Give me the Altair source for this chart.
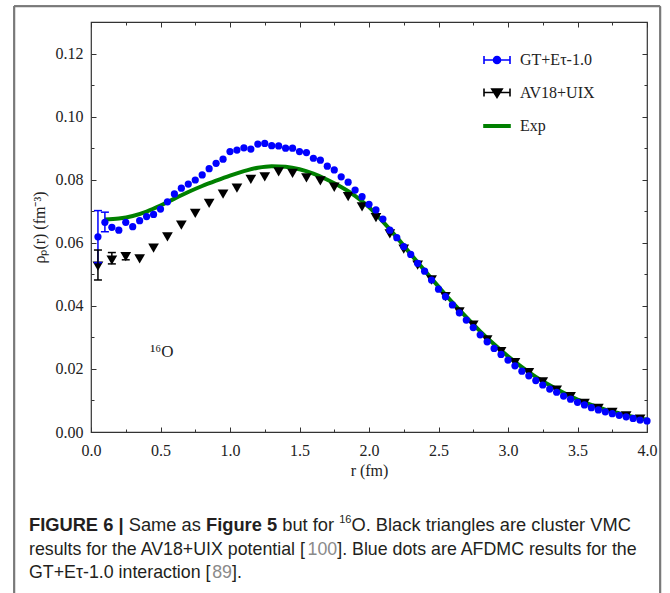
import altair as alt
import pandas as pd

# ---------------- data ----------------
series_names = ["GT+Eτ-1.0", "AV18+UIX", "Exp"]
series_colors = ["#0000ff", "#000000", "#008000"]

gt_r = [0.05, 0.10, 0.15, 0.20, 0.25, 0.30, 0.35, 0.40, 0.45, 0.50,
        0.55, 0.60, 0.65, 0.70, 0.75, 0.80, 0.85, 0.90, 0.95, 1.00,
        1.05, 1.10, 1.15, 1.20, 1.25, 1.30, 1.35, 1.40, 1.45, 1.50,
        1.55, 1.60, 1.65, 1.70, 1.75, 1.80, 1.85, 1.90, 1.95, 2.00,
        2.05, 2.10, 2.15, 2.20, 2.25, 2.30, 2.35, 2.40, 2.45, 2.50,
        2.55, 2.60, 2.65, 2.70, 2.75, 2.80, 2.85, 2.90, 2.95, 3.00,
        3.05, 3.10, 3.15, 3.20, 3.25, 3.30, 3.35, 3.40, 3.45, 3.50,
        3.55, 3.60, 3.65, 3.70, 3.75, 3.80, 3.85, 3.90, 3.95, 4.00]
gt_rho = [0.0619, 0.0665, 0.0649, 0.0640, 0.0665, 0.0651, 0.0670, 0.0683, 0.0690, 0.0707,
          0.0730, 0.0755, 0.0773, 0.0786, 0.0799, 0.0815, 0.0835, 0.0852, 0.0865, 0.0889,
          0.0894, 0.0901, 0.0897, 0.0913, 0.0915, 0.0908, 0.0907, 0.0900, 0.0900, 0.0889,
          0.0886, 0.0868, 0.0862, 0.0843, 0.0831, 0.0809, 0.0792, 0.0767, 0.0746, 0.0722,
          0.0704, 0.0675, 0.0640, 0.0616, 0.0588, 0.0563, 0.0535, 0.0510, 0.0482, 0.0453,
          0.0429, 0.0403, 0.0378, 0.0355, 0.0331, 0.0308, 0.0286, 0.0265, 0.0246, 0.0228,
          0.0210, 0.0193, 0.0178, 0.0163, 0.0149, 0.0136, 0.0126, 0.0114, 0.0104, 0.0094,
          0.0086, 0.0077, 0.0070, 0.0064, 0.0058, 0.0053, 0.0048, 0.0043, 0.0038, 0.0035]

av_r = [0.05, 0.15, 0.25, 0.35, 0.45, 0.55, 0.65, 0.75, 0.85, 0.95,
        1.05, 1.15, 1.25, 1.35, 1.45, 1.55, 1.65, 1.75, 1.85, 1.95,
        2.05, 2.15, 2.25, 2.35, 2.45, 2.55, 2.65, 2.75, 2.85, 2.95,
        3.05, 3.15, 3.25, 3.35, 3.45, 3.55, 3.65, 3.75, 3.85, 3.95]
av_rho = [0.0526, 0.0545, 0.0556, 0.0549, 0.0583, 0.0619, 0.0656, 0.0693, 0.0725, 0.0754,
          0.0773, 0.0801, 0.0809, 0.0825, 0.0820, 0.0806, 0.0796, 0.0776, 0.0746, 0.0714,
          0.0680, 0.0628, 0.0580, 0.0529, 0.0482, 0.0429, 0.0381, 0.0339, 0.0292, 0.0255,
          0.0220, 0.0188, 0.0159, 0.0133, 0.0112, 0.0091, 0.0075, 0.0062, 0.0051, 0.0041]

exp_r = [0.10, 0.20, 0.30, 0.40, 0.50, 0.60, 0.70, 0.80, 0.90, 1.00,
         1.10, 1.20, 1.30, 1.40, 1.50, 1.60, 1.70, 1.80, 1.90, 2.00,
         2.10, 2.20, 2.30, 2.40, 2.50, 2.60, 2.70, 2.80, 2.90, 3.00,
         3.10, 3.20, 3.30, 3.40, 3.50, 3.60, 3.70, 3.80, 3.90, 4.00]
exp_rho = [0.0674, 0.0677, 0.0685, 0.0699, 0.0718, 0.0740, 0.0761, 0.0780, 0.0797, 0.0813,
           0.0827, 0.0838, 0.0843, 0.0841, 0.0833, 0.0819, 0.0800, 0.0777, 0.0749, 0.0713,
           0.0667, 0.0617, 0.0564, 0.0512, 0.0461, 0.0411, 0.0364, 0.0319, 0.0278, 0.0240,
           0.0206, 0.0175, 0.0148, 0.0124, 0.0103, 0.0086, 0.0071, 0.0059, 0.0048, 0.0039]

gt_err_r = [0.05, 0.10]
gt_err_lo = [0.0537, 0.0635]
gt_err_hi = [0.0702, 0.0697]
av_err_r = [0.05, 0.15, 0.25]
av_err_lo = [0.0482, 0.0533, 0.0546]
av_err_hi = [0.0577, 0.0569, 0.0567]

x_major = [0.0, 0.5, 1.0, 1.5, 2.0, 2.5, 3.0, 3.5, 4.0]
x_minor = [0.25, 0.75, 1.25, 1.75, 2.25, 2.75, 3.25, 3.75]
y_major = [0.0, 0.02, 0.04, 0.06, 0.08, 0.10, 0.12]
y_minor = [0.01, 0.03, 0.05, 0.07, 0.09, 0.11]

annot_r = [0.51]
annot_rho = [0.0254]
annot_text = ["¹⁶O"]

x_title = "r (fm)"
y_title = "ρₚ(r) (fm⁻³)"

caption_line1 = ["FIGURE 6 |", "Same as", "Figure 5", "but for", "16", "O. Black triangles are cluster VMC"]
caption_line2 = ["results for the AV18+UIX potential [", "100", "]. Blue dots are AFDMC results for the"]
caption_line3 = ["GT+Eτ-1.0 interaction [", "89", "]."]

# ---------------- style / layout ----------------
SERIF = "Liberation Serif"
SANS = "Liberation Sans"
AX = "#333333"
TXT = "#222222"
PAGE_W, PAGE_H = 670, 593
X0, Y0 = 91, 22          # page position of the plot origin
W, H = 556, 410          # plot area

xscale = alt.Scale(domain=[0, 4], nice=False, zero=False)
yscale = alt.Scale(domain=[0, 0.13], nice=False, zero=False)


def tick_axis(orient, values, size):
    return alt.Axis(orient=orient, values=values, labels=False, domain=False, grid=False,
                    ticks=True, tickSize={"expr": str(-size)}, tickColor=AX, tickWidth=1)


ax_x_lab = alt.Axis(orient="bottom", values=x_major, format=".1f", ticks=False, domain=False,
                    grid=False, labelFont=SERIF, labelFontSize=16, labelColor=TXT,
                    labelFlush=False, labelOverlap=False,
                    labelPadding=10, titleFont=SERIF, titleFontSize=16,
                    titleFontWeight="normal", titleColor=TXT, titlePadding=4)
ax_y_lab = alt.Axis(orient="left", values=y_major, format=".2f", ticks=False, domain=False,
                    grid=False, labelFont=SERIF, labelFontSize=16, labelColor=TXT,
                    labelFlush=False, labelOverlap=False,
                    labelPadding=8, titleFont=SERIF, titleFontSize=16,
                    titleFontWeight="normal", titleColor=TXT, titlePadding=8)

df_gt = pd.DataFrame({"r": gt_r, "rho": gt_rho})
df_av = pd.DataFrame({"r": av_r, "rho": av_rho})
df_exp = pd.DataFrame({"r": exp_r, "rho": exp_rho})
df_gt_err = pd.DataFrame({"r": gt_err_r, "lo": gt_err_lo, "hi": gt_err_hi})
df_av_err = pd.DataFrame({"r": av_err_r, "lo": av_err_lo, "hi": av_err_hi})
df_gt_cap = pd.DataFrame({"r": gt_err_r + gt_err_r, "v": gt_err_lo + gt_err_hi})
df_av_cap = pd.DataFrame({"r": av_err_r + av_err_r, "v": av_err_lo + av_err_hi})
df_annot = pd.DataFrame({"r": annot_r, "rho": annot_rho, "t": annot_text})
one = pd.DataFrame({"k": [0]})

green = alt.Chart(df_exp).mark_line(color=series_colors[2], strokeWidth=4,
                                    interpolate="monotone").encode(
    x=alt.X("r:Q", scale=xscale, axis=ax_x_lab, title=x_title),
    y=alt.Y("rho:Q", scale=yscale, axis=ax_y_lab, title=y_title),
)

tri = alt.Chart(df_av).mark_point(shape="triangle-down", filled=True, size=115,
                                  color=series_colors[1], opacity=1).encode(
    x=alt.X("r:Q", scale=xscale, axis=tick_axis("bottom", x_major, 5), title=None),
    y=alt.Y("rho:Q", scale=yscale, axis=tick_axis("left", y_major, 5), title=None),
)

dots = alt.Chart(df_gt).mark_circle(size=52, color=series_colors[0], opacity=1).encode(
    x=alt.X("r:Q", scale=xscale, axis=tick_axis("bottom", x_minor, 3), title=None),
    y=alt.Y("rho:Q", scale=yscale, axis=tick_axis("left", y_minor, 3), title=None),
)

gt_rule = alt.Chart(df_gt_err).mark_rule(color=series_colors[0], strokeWidth=1.5).encode(
    x=alt.X("r:Q", scale=xscale, axis=tick_axis("top", x_major, 5), title=None),
    y=alt.Y("lo:Q", scale=yscale, axis=tick_axis("right", y_major, 5), title=None),
    y2="hi:Q",
)
gt_cap = alt.Chart(df_gt_cap).mark_tick(orient="horizontal", size=8, thickness=1.5,
                                        color=series_colors[0], opacity=1).encode(
    x=alt.X("r:Q", scale=xscale, axis=tick_axis("top", x_minor, 3), title=None),
    y=alt.Y("v:Q", scale=yscale, axis=tick_axis("right", y_minor, 3), title=None),
)
av_rule = alt.Chart(df_av_err).mark_rule(color=series_colors[1], strokeWidth=1.5).encode(
    x=alt.X("r:Q", scale=xscale, axis=None),
    y=alt.Y("lo:Q", scale=yscale, axis=None),
    y2="hi:Q",
)
av_cap = alt.Chart(df_av_cap).mark_tick(orient="horizontal", size=8, thickness=1.5,
                                        color=series_colors[1], opacity=1).encode(
    x=alt.X("r:Q", scale=xscale, axis=None),
    y=alt.Y("v:Q", scale=yscale, axis=None),
)

annot = alt.Chart(df_annot).mark_text(font=SERIF, fontSize=17, color=TXT).encode(
    x=alt.X("r:Q", scale=xscale, axis=None),
    y=alt.Y("rho:Q", scale=yscale, axis=None),
    text="t:N",
)

# legend built by the library from an (empty) layer
legend_paths = [
    "M-1,0H1M-1,-0.3V0.3M1,-0.3V0.3M-0.27,0A0.27,0.27 0 1,0 0.27,0A0.27,0.27 0 1,0 -0.27,0Z",
    "M-1,0H1M-1,-0.3V0.3M1,-0.3V0.3M-0.4,-0.26L0.4,-0.26L0,0.38Z",
    "M-1,-0.1H1V0.1H-1Z",
]
leg = alt.Legend(orient="none", legendX=392, legendY=24, labelFont=SERIF, labelFontSize=16,
                 labelColor=TXT, symbolSize=676, symbolStrokeWidth=1.6, labelOffset=9,
                 rowPadding=10.5, padding=0)
legend_layer = alt.Chart(pd.DataFrame({"series": series_names})).mark_point(
    filled=True, size=676, strokeWidth=1.6, opacity=1).encode(
    fill=alt.Fill("series:N", scale=alt.Scale(domain=series_names, range=series_colors),
                  legend=leg, title=None),
    stroke=alt.Stroke("series:N", scale=alt.Scale(domain=series_names, range=series_colors),
                      legend=leg, title=None),
    shape=alt.Shape("series:N", scale=alt.Scale(domain=series_names, range=legend_paths),
                    legend=leg, title=None),
).transform_filter("false")

# figure frame (three sides; the lower ends fall below the page)
FRAME = "#7a7a7a"
FW = 1.5
L, T, R, B = 14 - X0, 6 - Y0, 660 - X0, 612 - Y0
frame_df = pd.DataFrame({"x1": [L, L, R], "x2": [R, L, R],
                         "y1": [T, T, T], "y2": [T, B, B]})
px_x = alt.Scale(domain=[L, R], range=[L, R], nice=False, zero=False)
px_y = alt.Scale(domain=[T, B], range=[T, B], nice=False, zero=False)


def frame_axis(orient, offset):
    return alt.Axis(orient=orient, offset=offset, labels=False, ticks=False, grid=False,
                    domain=True, domainColor=FRAME, domainWidth=FW)


frame_a = alt.Chart(frame_df).mark_rule(color=FRAME, strokeWidth=FW).encode(
    x=alt.X("x1:Q", scale=px_x, axis=frame_axis("top", -T), title=None), x2="x2:Q",
    y=alt.Y("y1:Q", scale=px_y, axis=frame_axis("left", -L), title=None), y2="y2:Q",
)
frame_b = alt.Chart(frame_df).mark_rule(color=FRAME, strokeWidth=FW).encode(
    x=alt.X("x1:Q", scale=px_x, axis=None), x2="x2:Q",
    y=alt.Y("y1:Q", scale=px_y, axis=frame_axis("right", R - W), title=None), y2="y2:Q",
)

# caption: pieces chained with Arial-compatible (Liberation Sans) advance widths
AR = {" ": 278, ".": 278, "-": 333, "+": 584, "[": 278, "]": 278, "|": 260, "τ": 480,
      "A": 667, "B": 667, "C": 722, "D": 722, "E": 667, "F": 611, "G": 778, "I": 278,
      "M": 833, "O": 778, "S": 667, "T": 611, "U": 722, "V": 667, "X": 667,
      "a": 556, "b": 556, "c": 500, "d": 556, "e": 556, "f": 278, "g": 556, "h": 556,
      "i": 222, "k": 500, "l": 222, "m": 833, "n": 556, "o": 556, "p": 556, "r": 333,
      "s": 500, "t": 278, "u": 556}
AR_B = {" ": 278, "|": 280, "E": 667, "F": 611, "G": 778, "I": 278, "R": 722, "U": 722,
        "e": 556, "g": 611, "i": 278, "r": 389, "u": 611}


def tw(s, size, bold=False):
    table = AR_B if bold else AR
    return sum(table.get(c, 556) for c in s) * size / 1000.0


CAP_FS, CAP_FS1, SUP_FS = 17.8, 18.3, 11
CAP_X = 29
LY = [526, 550, 573]
GRAY = "#8a8a8a"
CAP_COL = "#231f20"


def cap(text, x, y, size=CAP_FS, weight="normal", color=CAP_COL, dy=0):
    return alt.Chart(one).mark_text(text=text, align="left", baseline="middle", font=SANS,
                                    fontSize=size, fontWeight=weight, color=color, dy=dy).encode(
        x=alt.value(x - X0), y=alt.value(y - Y0))


caption = []
sp = tw(" ", CAP_FS1)
x = CAP_X
styles1 = [("bold", CAP_FS1, True), ("normal", CAP_FS1, True), ("bold", CAP_FS1, True),
           ("normal", CAP_FS1, True), ("sup", SUP_FS, False), ("normal", CAP_FS1, False)]
for piece, (kind, fs, space_after) in zip(caption_line1, styles1):
    bold = kind == "bold"
    caption.append(cap(piece, x, LY[0], size=fs, weight="bold" if bold else "normal",
                       dy=-6 if kind == "sup" else 0))
    x += tw(piece, fs, bold) + (sp if space_after else 0)

for line, y in ((caption_line2, LY[1]), (caption_line3, LY[2])):
    x = CAP_X
    for i, piece in enumerate(line):
        caption.append(cap(piece, x, y, color=GRAY if i == 1 else CAP_COL))
        x += tw(piece, CAP_FS)

chart = alt.layer(
    frame_a, frame_b, green, tri, dots, gt_rule, gt_cap, av_rule, av_cap, annot,
    legend_layer, *caption
).resolve_scale(x="independent", y="independent").resolve_axis(
    x="independent", y="independent").properties(
    width=W, height=H, background="white",
    autosize=alt.AutoSizeParams(type="none"),
    padding={"left": X0, "top": Y0, "right": PAGE_W - X0 - W, "bottom": PAGE_H - Y0 - H},
).configure_view(stroke=AX, strokeWidth=1.2)

chart.save("out.html", embed_options={"renderer": "svg", "actions": False})
